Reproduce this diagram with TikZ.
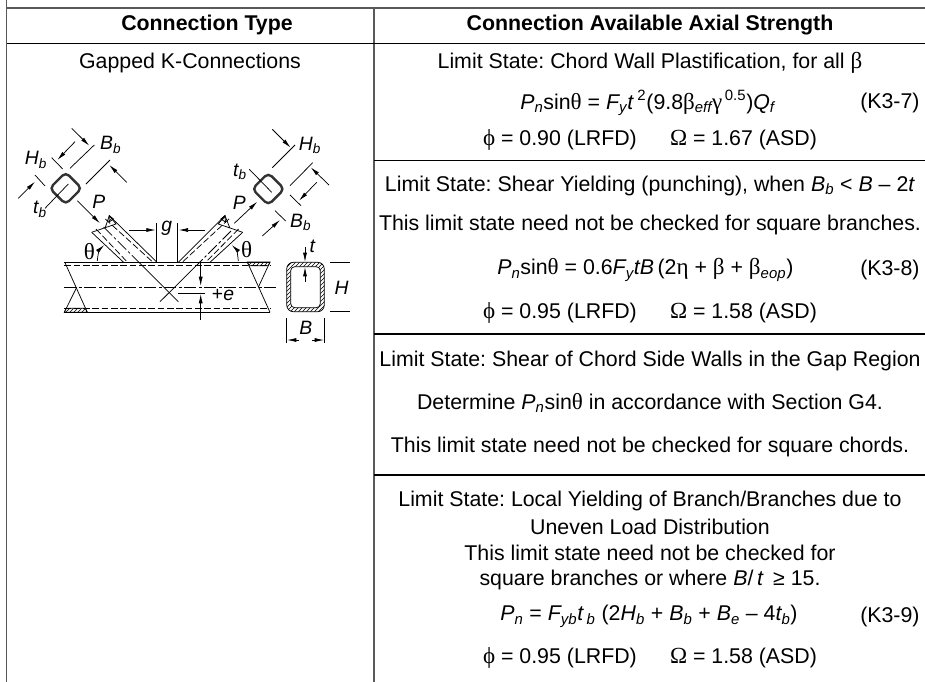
\documentclass[tikz,border=0pt]{standalone}
\usepackage{fontspec}
\setmainfont{Liberation Sans}
\newfontfamily\grk[Scale=1.08]{Liberation Serif}
\usetikzlibrary{arrows.meta,patterns}
\newcommand{\gk}[1]{{\grk #1}}
\newcommand{\lowit}[1]{\textsubscript{\itshape #1}}
\tikzstyle{cell}=[inner sep=0pt,font=\fontsize{16}{18}\selectfont]
\tikzstyle{head}=[cell,font=\fontsize{16}{18}\selectfont\bfseries]
\tikzstyle{lbl}=[inner sep=0pt,font=\fontsize{14.5}{18}\selectfont\itshape]
\tikzstyle{rule}=[line width=0.8pt]
\tikzstyle{frame}=[line width=1.3pt,black!65]
\tikzstyle{thin}=[line width=0.55pt]
\tikzstyle{dim}=[line width=0.55pt,-{Latex[length=7pt,width=3pt]}]
\tikzstyle{hid}=[line width=0.55pt,dash pattern=on 5pt off 2pt]
\tikzstyle{axis}=[line width=0.55pt,dash pattern=on 9pt off 2pt on 2pt off 2pt]
\tikzstyle{tube}=[draw,rotate=45,minimum size=17pt,inner sep=0pt,rounded corners=3.5pt,line width=1.8pt,black!80]
\tikzstyle{hatch}=[pattern=north east lines]
\frenchspacing
\begin{document}
\begin{tikzpicture}[x=0.75pt,y=-0.75pt]
\useasboundingbox (0,0) rectangle (925,682);
\draw[frame] (6.5,0) -- (6.5,682);
\draw[frame] (374,8) -- (374,682);
\draw[frame] (6.5,8) -- (925,8);
\draw[rule] (6.5,43.5) -- (925,43.5);
\draw[rule] (374,160.5) -- (925,160.5);
\draw[rule] (374,334) -- (925,334);
\draw[rule] (374,475) -- (925,475);
\node[head] at (207,25) (typehead) {Connection Type};
\node[head] at (650,25) (strengthhead) {Connection Available Axial Strength};
\node[cell] at (190,63) (gapped) {Gapped K-Connections};
\node[cell] at (650,63) (a1) {Limit State: Chord Wall Plastification, for all \gk{β}};
\node[cell,anchor=west] at (520,103) (a2) {\textit{P\lowit{n}}sin\gk{θ} = \textit{F\lowit{y}t}\,\textsuperscript{2}(9.8\gk{β}\lowit{eff}\gk{γ}\textsuperscript{\,0.5})\textit{Q\lowit{f}}};
\node[cell,anchor=west] at (860,103) (a3) {(K3-7)};
\node[cell] at (650,140) (a4) {\gk{ϕ} = 0.90 (LRFD) \quad\ \gk{Ω} = 1.67 (ASD)};
\node[cell] at (650,185.5) (b1) {Limit State: Shear Yielding (punching), when \textit{B\lowit{b}} < \textit{B} – 2\textit{t}};
\node[cell] at (650,225) (b2) {This limit state need not be checked for square branches.};
\node[cell,anchor=west] at (497,270) (b3) {\textit{P\lowit{n}}sin\gk{θ} = 0.6\textit{F\lowit{y}tB}\,(2\gk{η} + \gk{β} + \gk{β}\lowit{eop})};
\node[cell,anchor=west] at (860,270) (b4) {(K3-8)};
\node[cell] at (650,313) (b5) {\gk{ϕ} = 0.95 (LRFD) \quad\ \gk{Ω} = 1.58 (ASD)};
\node[cell] at (650,360.5) (c1) {Limit State: Shear of Chord Side Walls in the Gap Region};
\node[cell] at (650,403) (c2) {Determine \textit{P\lowit{n}}sin\gk{θ} in accordance with Section G4.};
\node[cell] at (650,446.5) (c3) {This limit state need not be checked for square chords.};
\node[cell] at (650,500.5) (d1) {Limit State: Local Yielding of Branch/Branches due to};
\node[cell] at (650,527) (d2) {Uneven Load Distribution};
\node[cell] at (650,553) (d3) {This limit state need not be checked for};
\node[cell] at (650,580) (d4) {square branches or where \textit{B}/\,\textit{t} \,≥ 15.};
\node[cell,anchor=west] at (500,616.5) (d5) {\textit{P\lowit{n}} = \textit{F\lowit{yb}t\,\lowit{b}} (2\textit{H\lowit{b}} + \textit{B\lowit{b}} + \textit{B\lowit{e}} – 4\textit{t\lowit{b}})};
\node[cell,anchor=west] at (860,616.5) (d6) {(K3-9)};
\node[cell] at (650,657.5) (d7) {\gk{ϕ} = 0.95 (LRFD) \quad\ \gk{Ω} = 1.58 (ASD)};
\node[tube] at (65.7,188.3) (tubeleft) {};
\node[tube] at (268.3,189) (tuberight) {};
\node[lbl] at (36,160) (hbleft) {H\lowit{b}};
\node[lbl] at (110.7,145) (bbleft) {B\lowit{b}};
\node[lbl] at (40,209.3) (tbleft) {t\lowit{b}};
\node[lbl] at (98.7,202) (pleft) {P};
\node[lbl] at (310,145.7) (hbright) {H\lowit{b}};
\node[lbl] at (300.7,222.7) (bbright) {B\lowit{b}};
\node[lbl] at (240,171.7) (tbright) {t\lowit{b}};
\node[lbl] at (239.3,202.7) (pright) {P};
\node[lbl] at (166.7,228) (gap) {g};
\node[lbl] at (223,295) (ecc) {\textup{+}e};
\node[lbl] at (312.3,246) (twall) {t};
\node[lbl] at (341.7,287.7) (hchord) {H};
\node[lbl] at (305.7,328) (bchord) {B};
\node[cell,font=\fontsize{16}{18}\selectfont\grk] at (89.3,251.7) (thetaleft) {θ};
\node[cell,font=\fontsize{16}{18}\selectfont\grk] at (246.7,250) (thetaright) {θ};
\draw[thin] (68.3,184) -- (45,208.3);
\draw[dim] (18.3,198.3) -- (35,181.7);
\draw[thin] (35,175) -- (45,186);
\draw[dim] (75,141.7) -- (57.3,160);
\draw[thin] (51.7,157.7) -- (62.7,169);
\draw[thin] (94.3,145) -- (70,168.3);
\draw[dim] (71.7,128.3) -- (89.3,145.7);
\draw[thin] (110,160) -- (86,184);
\draw[dim] (126.7,182.3) -- (109.3,165);
\draw[dim] (77.3,200.7) -- (100,223.3);
\draw[thin] (295,145) -- (272.3,167.7);
\draw[dim] (272.3,129.3) -- (290.7,147.7);
\draw[thin] (312.7,162.7) -- (290,185.7);
\draw[dim] (329,185) -- (310.7,167.3);
\draw[thin] (290,195) -- (301,205.7);
\draw[dim] (316.7,182.3) -- (299,200.7);
\draw[thin] (275,210.7) -- (285.7,221);
\draw[dim] (262.3,236) -- (280,220);
\draw[thin] (249.3,169.3) -- (271.7,192.3);
\draw[dim] (234.3,223.3) -- (257.3,201.7);
\draw[thin] (64.3,262) -- (270,262);
\draw[thin] (64.3,312.3) -- (270,312.3);
\draw[hid] (64.3,265.7) -- (270,265.7);
\draw[hid] (64.3,308.3) -- (270,308.3);
\draw[axis] (64.3,287.3) -- (277.7,287.3);
\draw[thin] (65,262.7) -- (87.3,312.3);
\draw[thin] (64.3,312.3) -- (76.7,287.3);
\draw[thin] (247.3,262) -- (270,312.3);
\draw[thin] (270,262) -- (258.3,287.3);
\draw[thin,hatch] (64.3,312.3) -- (87.3,312.3) -- (85.3,308.3) -- (66.3,308.3) -- cycle;
\draw[thin,hatch] (247.3,262) -- (270,262) -- (268.3,265.7) -- (249,265.7) -- cycle;
\draw[thin] (91.7,232.3) -- (123.3,262);
\draw[thin] (109.3,215.7) -- (156.7,262);
\draw[hid] (96,229) -- (127.3,262);
\draw[hid] (105.3,219) -- (152.7,262);
\draw[axis] (103.6,227) -- (138.6,262);
\draw[thin] (138.6,262) -- (178.3,301.7);
\draw[thin] (91.7,232.3) -- (116,224) -- (109.3,215.7) -- (105,228.3);
\draw[thin,hatch] (109.3,215.7) -- (113.5,219) -- (109,222) -- cycle;
\draw[thin] (242.7,232.3) -- (210,262.3);
\draw[thin] (225,215.7) -- (178.3,262.3);
\draw[hid] (238.5,229) -- (206,262);
\draw[hid] (229,219) -- (182.5,262);
\draw[axis] (231,231) -- (200,262);
\draw[thin] (200,262) -- (160,301.7);
\draw[thin] (242.7,232.3) -- (218.3,224) -- (225,215.7) -- (230,228.3);
\draw[thin,hatch] (225,215.7) -- (220.8,219) -- (225.5,222) -- cycle;
\draw[thin] (156.7,223.3) -- (156.7,262);
\draw[thin] (177.7,223.3) -- (177.7,262);
\draw[dim] (129.3,230) -- (155.7,230);
\draw[dim] (205,230) -- (178.7,230);
\draw[dim] (97.3,261) .. controls (97.5,255) and (100,249) .. (104.3,245);
\draw[dim] (238.3,261) .. controls (238,255) and (236,249) .. (231.7,245);
\draw[dim] (200.7,262) -- (200.7,286);
\draw[thin] (178.3,293.3) -- (205,293.3);
\draw[dim] (200.7,320) -- (200.7,294);
\draw[thin,hatch,rounded corners=5pt] (286.7,262.3) rectangle (324.3,311.7);
\draw[thin,fill=white,rounded corners=3pt] (290.7,266.7) rectangle (320.3,307.7);
\draw[dim] (305,246.7) -- (305,262);
\draw[dim] (305,282) -- (305,267);
\draw[thin] (330,262.3) -- (350,262.3);
\draw[thin] (330,311.7) -- (350,311.7);
\draw[thin] (286.7,318.3) -- (286.7,343);
\draw[thin] (324.3,318.3) -- (324.3,343);
\draw[dim] (299,340) -- (287,340);
\draw[dim] (312,340) -- (324,340);
\end{tikzpicture}
\end{document}
